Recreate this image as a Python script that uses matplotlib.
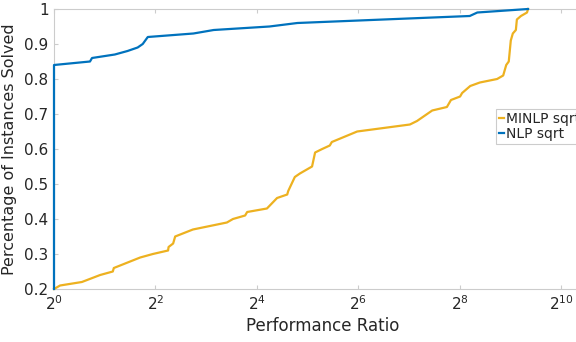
import matplotlib
matplotlib.use("Agg")
import matplotlib.pyplot as plt
import numpy as np

# performance profile, ratios given as log2(ratio)
nlp_log2 = [0, 0, 0.71, 0.75, 1.2, 1.45, 1.65, 1.75, 1.85, 2.75, 3.15, 4.25, 4.8, 8.2, 8.35, 9.35]
nlp_frac = [0.2, 0.84, 0.85, 0.86, 0.87, 0.88, 0.89, 0.90, 0.92, 0.93, 0.94, 0.95, 0.96, 0.98, 0.99, 1.0]

minlp_log2 = [0, 0.12, 0.55, 0.91, 1.16, 1.18, 1.70, 1.95, 2.25, 2.26, 2.35, 2.39, 2.74, 3.41,
              3.53, 3.77, 3.81, 4.20, 4.40, 4.60, 4.62, 4.75, 4.85, 5.09, 5.15, 5.29, 5.44,
              5.48, 5.98, 7.02, 7.16, 7.46, 7.75, 7.83, 8.01, 8.05, 8.21, 8.40, 8.74, 8.86,
              8.92, 8.97, 9.01, 9.05, 9.11, 9.13, 9.21, 9.33, 9.35]
minlp_frac = [0.20, 0.21, 0.22, 0.24, 0.25, 0.26, 0.29, 0.30, 0.31, 0.32, 0.33, 0.35, 0.37, 0.39,
              0.40, 0.41, 0.42, 0.43, 0.46, 0.47, 0.48, 0.52, 0.53, 0.55, 0.59, 0.60, 0.61,
              0.62, 0.65, 0.67, 0.68, 0.71, 0.72, 0.74, 0.75, 0.76, 0.78, 0.79, 0.80, 0.81,
              0.84, 0.85, 0.91, 0.93, 0.94, 0.97, 0.98, 0.99, 1.00]

x_ticks = [0, 2, 4, 6, 8, 10]
y_ticks = [0.2, 0.3, 0.4, 0.5, 0.6, 0.7, 0.8, 0.9, 1.0]
y_tick_labels = ["0.2", "0.3", "0.4", "0.5", "0.6", "0.7", "0.8", "0.9", "1"]

txt = "#262626"
grey = "#cccccc"

fig = plt.figure(figsize=(5.76, 3.42), dpi=100)
ax = fig.add_axes([54 / 576, 53 / 342, 537.4 / 576, 280 / 342])

ax.plot(2.0 ** np.array(minlp_log2), minlp_frac, color="#EDB120", lw=1.6,
        label="MINLP sqrt", clip_on=False, zorder=3)
ax.plot(2.0 ** np.array(nlp_log2), nlp_frac, color="#0072BD", lw=1.6,
        label="NLP sqrt", clip_on=False, zorder=3)

ax.set_xscale("log", base=2)
ax.set_xlim(1, 2 ** 10.6)
ax.set_ylim(0.2, 1)
ax.set_xticks([2.0 ** t for t in x_ticks])
ax.set_xticklabels(["$2^{%d}$" % t for t in x_ticks])
ax.set_yticks(y_ticks)
ax.set_yticklabels(y_tick_labels)
ax.minorticks_off()

for s in ax.spines.values():
    s.set_color(grey)
    s.set_linewidth(0.8)
ax.tick_params(direction="in", length=3, color=grey, top=True, right=True,
               labelsize=11, labelcolor=txt, pad=4)

ax.set_xlabel("Performance Ratio", fontsize=12, color=txt, labelpad=3)
ax.set_ylabel("Percentage of Instances Solved", fontsize=11.5, color=txt, labelpad=5)

leg = fig.legend(loc="upper left", bbox_to_anchor=(496 / 576, 1 - 109 / 342),
                 fontsize=10, handlelength=0.4, handletextpad=0.1, borderpad=0.2,
                 labelspacing=0.1, borderaxespad=0, fancybox=False, framealpha=1)
leg.get_frame().set_edgecolor(grey)
leg.get_frame().set_linewidth(0.8)
for t in leg.get_texts():
    t.set_color(txt)

fig.savefig("out.png", dpi=100)
